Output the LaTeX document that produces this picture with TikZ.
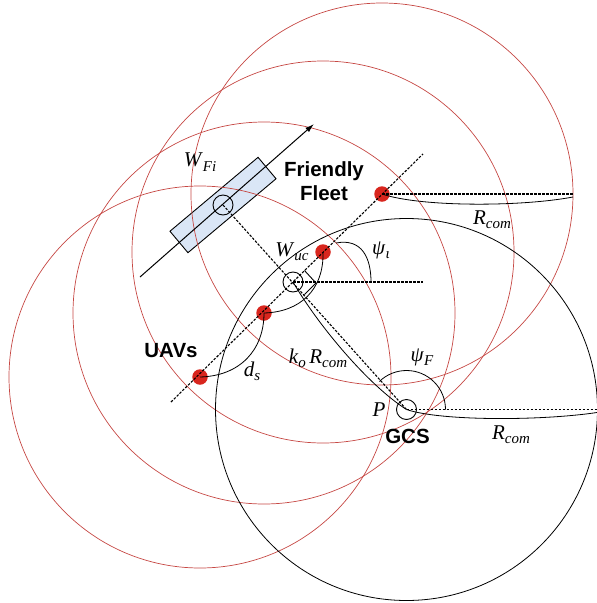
\documentclass[tikz,border=0pt]{standalone}
\usepackage{fontspec}
\setmainfont{Liberation Serif}
\newfontfamily\helv{Liberation Sans}
\usetikzlibrary{arrows.meta,calc}
\definecolor{uavred}{RGB}{216,38,30}
\definecolor{ringred}{RGB}{198,72,68}
\definecolor{boxblue}{RGB}{218,230,246}
\newcommand{\sublab}[2]{\textit{#1}\raisebox{-0.45ex}{\fontsize{15}{15}\selectfont\textit{#2}}}
\begin{document}
\begin{tikzpicture}[x=1pt,y=-1pt,
  ring/.style={draw=ringred,line width=0.7pt},
  rangeln/.style={draw=black,line width=0.8pt},
  uav/.style={circle,fill=uavred,minimum size=15.5pt,inner sep=0pt},
  hub/.style={circle,draw,line width=0.9pt,minimum size=20pt,inner sep=0pt},
  dashln/.style={line width=1.1pt,dash pattern=on 2.5pt off 1.5pt},
  solidln/.style={line width=0.8pt},
  lab/.style={font=\fontsize{21}{24}\selectfont,inner sep=0pt},
  blab/.style={font=\helv\bfseries\fontsize{20.5}{24}\selectfont,inner sep=0pt,align=center},
]
\useasboundingbox (0,0) rectangle (597,603);
% ship box
\node[draw,fill=boxblue,line width=0.9pt,minimum width=115pt,minimum height=28pt,inner sep=0pt,rotate=40] (ship) at (223,205) {};
% UAVs and hubs
\node[uav] (u1) at (200,377) {};
\node[uav] (u2) at (264,313) {};
\node[uav] (u3) at (323,252) {};
\node[uav] (u4) at (382,194) {};
\node[hub] (wfi) at (223,205) {};
\node[hub] (wuc) at (293,282) {};
\node[hub] (gcs) at (406.5,409.5) {};
% communication ranges
\draw[ring] (u1.center) circle[radius=191];
\draw[ring] (u2.center) circle[radius=191];
\draw[ring] (u3.center) circle[radius=191];
\draw[ring] (u4.center) circle[radius=191];
\draw[rangeln] (gcs.center) circle[radius=191];
% heading arrow
\coordinate (arrS) at (140,277);
\coordinate (arrE) at (314,124);
\draw[line width=1pt,-{Latex[length=9pt,width=5.5pt]}] (arrS) -- (arrE);
% dashed lines
\draw[dashln] (wfi.center) -- (gcs.center);
\coordinate (la) at (171,402);
\coordinate (lb) at (423,154);
\draw[dashln] (la) -- (lb);
\coordinate (wh) at (423,282);
\draw[dashln] (wuc.center) -- (wh);
\coordinate (u4r) at (573,194);
\draw[dashln] (u4.center) -- (u4r);
\coordinate (gr) at (597,409.5);
\draw[dashln] (gcs.center) -- (gr);
% R_com curves
\coordinate (u4e) at (573,197);
\draw[solidln] (u4.center) .. controls (420,207) and (520,207) .. (u4e);
\coordinate (ge) at (597,412.5);
\draw[solidln] (gcs.center) .. controls (440,421) and (540,421) .. (ge);
% k_o R_com curve
\draw[solidln] (wuc.center) .. controls (318,325) and (368,385) .. (gcs.center);
% spacing curves
\draw[solidln] (u1.center) .. controls (240,376) and (264,350) .. (u2.center);
\draw[solidln] (u2.center) .. controls (300,312) and (324,290) .. (u3.center);
% psi_iota
\coordinate (pi1) at (336,243);
\coordinate (pi2) at (371,282);
\draw[solidln] (pi1) .. controls (362,238) and (371,258) .. (pi2);
% psi_F
\coordinate (pf1) at (445.5,409.5);
\draw[solidln] (pf1) arc[start angle=0,end angle=-134,radius=39];
% right angle marker
\coordinate (ra1) at (304.5,270.5);
\coordinate (ra2) at (316,283);
\coordinate (ra3) at (304.5,294.5);
\draw[line width=0.9pt] (ra1) -- (ra2) -- (ra3);
% labels
\node[lab] (lwfi) at (200,162) {\sublab{W}{Fi}};
\node[lab] (lwuc) at (292,252) {\sublab{W}{uc}};
\node[lab] (lpsi) at (381,250) {\sublab{ψ}{ι}};
\node[lab] (lpsf) at (422,357) {\sublab{ψ}{F}};
\node[lab] (lds) at (252,371) {\sublab{d}{s}};
\node[lab] (lko) at (318,358) {\sublab{k}{o}\,\sublab{R}{com}};
\node[lab] (lr1) at (492,220) {\sublab{R}{com}};
\node[lab] (lr2) at (511,435) {\sublab{R}{com}};
\node[lab] (lp) at (379,410) {\textit{P}};
\node[blab] (lgcs) at (407.5,436) {GCS};
\node[blab] (luav) at (171,350.5) {UAVs};
\node[blab] (lff) at (324,181) {Friendly\\Fleet};
\end{tikzpicture}
\end{document}
